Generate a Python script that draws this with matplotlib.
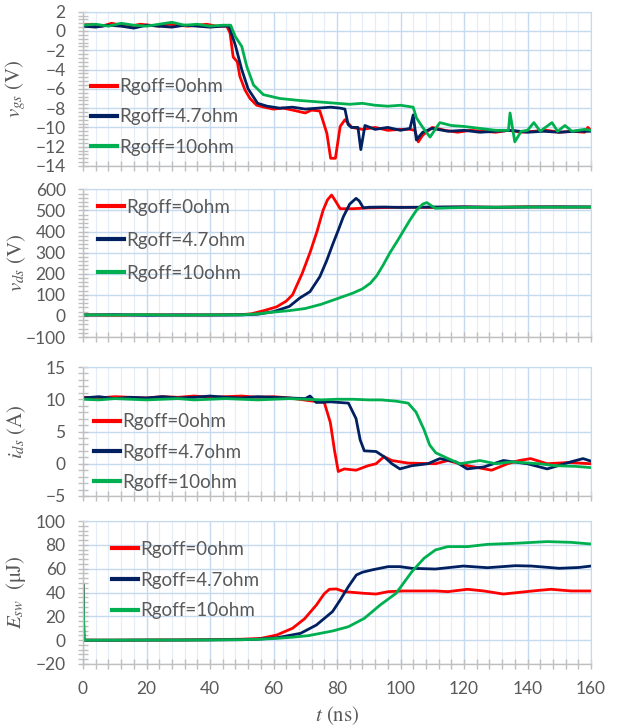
import matplotlib
matplotlib.use("Agg")
from matplotlib import pyplot as plt
from matplotlib.ticker import MultipleLocator, AutoMinorLocator

plt.rcParams['font.family'] = ['Lato', 'DejaVu Sans']
plt.rcParams['mathtext.fontset'] = 'stix'

labels = ["Rgoff=0ohm", "Rgoff=4.7ohm", "Rgoff=10ohm"]
colors = ["#ff0000", "#002060", "#00b050"]

# gate-source voltage (V)
t_vgs_0 = [0, 3, 6, 9, 12, 15, 18, 21, 24, 27, 30, 33, 36, 39, 42, 45.3,
           46.3, 47.3, 48.6, 49.4, 51, 52.6, 54.7, 57, 60, 63, 66, 70, 72, 74.6,
           76.8, 78, 79.5, 81, 82.5, 84.7, 88, 92, 96, 100, 103,
           104.5, 105.6, 107, 110, 114, 118, 122, 126, 130, 134, 138, 142, 146, 150, 154, 158, 159, 160]
vgs_0 = [0.6, 0.7, 0.5, 0.8, 0.6, 0.5, 0.7, 0.6, 0.5, 0.7, 0.6, 0.5, 0.6, 0.7, 0.5, 0.5,
         -0.2, -2.7, -3.2, -4.7, -6.1, -7.0, -7.7, -7.9, -8.1, -8.0, -8.2, -8.5, -8.2, -8.3,
         -10.6, -13.2, -13.2, -9.9, -9.2, -10.0, -10.2, -10.0, -10.3, -10.2, -10.2,
         -10.3, -11.5, -10.8, -10.0, -10.3, -10.5, -10.3, -10.4, -10.5, -10.3, -10.5, -10.4, -10.3, -10.5, -10.4, -10.5, -10.0, -10.3]
t_vgs_47 = [0, 4, 8, 12, 16, 20, 24, 28, 32, 36, 40, 44,
            46, 48, 50, 52, 55, 58, 62, 66, 70, 74, 78, 81,
            82.5, 83.5, 84.5, 86.6, 87.5, 88.8,
            92, 96, 100, 103, 104, 105, 107, 110,
            115, 120, 125, 130, 135, 140, 145, 150, 155, 160]
vgs_47 = [0.5, 0.4, 0.6, 0.5, 0.3, 0.6, 0.5, 0.4, 0.6, 0.5, 0.4, 0.5,
          0.5, -1.5, -4.0, -6.0, -7.5, -7.8, -8.0, -7.9, -8.1, -8.0, -7.9, -8.0,
          -8.1, -9.7, -10.0, -10.0, -12.3, -9.8,
          -10.2, -10.0, -10.3, -10.1, -8.7, -11.3, -10.5, -10.1,
          -10.4, -10.3, -10.5, -10.4, -10.3, -10.5, -10.4, -10.5, -10.4, -10.4]
t_vgs_10 = [0, 4, 8, 12, 16, 20, 24, 28, 32, 36, 40, 44,
            46.5, 48, 50, 51.6, 53.7, 56.8, 62, 68, 72, 76, 80, 84, 88, 92, 96, 100, 104,
            105, 107, 109.3, 112.4, 116, 120, 125, 130, 134,
            134.5, 136, 138, 140, 142, 144, 147.7, 149.5, 151.8, 154, 158, 160]
vgs_10 = [0.6, 0.7, 0.5, 0.8, 0.6, 0.5, 0.7, 0.9, 0.6, 0.7, 0.5, 0.6,
          0.6, -0.6, -1.6, -3.7, -5.6, -6.6, -7.0, -7.2, -7.3, -7.4, -7.5, -7.6, -7.5, -7.7, -7.8, -7.7, -7.9,
          -9.0, -10.0, -11.0, -9.5, -9.8, -9.9, -10.1, -10.3, -10.3,
          -8.5, -11.5, -10.4, -10.3, -9.5, -10.4, -9.5, -10.4, -9.8, -10.4, -10.2, -10.3]

# drain-source voltage (V)
t_vds_0 = [0, 10, 20, 30, 40, 50, 53, 57, 61, 64, 66, 69, 71.5, 73.7, 75.6, 77, 78.3, 79.5,
           81, 85, 90, 100, 110, 120, 130, 140, 150, 160]
vds_0 = [5, 3, 6, 4, 5, 6, 10, 25, 43, 70, 100, 200, 300, 400, 500, 550, 573, 545,
         508, 508, 512, 515, 514, 516, 515, 517, 516, 516]
t_vds_47 = [0, 10, 20, 30, 40, 50, 55, 60, 65,
            68.3, 71.5, 74.6, 76.7, 78.8, 80.5, 82, 84, 86,
            87, 88.3, 90, 95, 100, 110, 120, 130, 140, 150, 160]
vds_47 = [4, 6, 3, 5, 4, 5, 8, 20, 45,
          85, 115, 186, 260, 345, 410, 470, 530, 557,
          545, 512, 515, 516, 514, 516, 517, 515, 516, 517, 516]
t_vds_10 = [0, 10, 20, 30, 40, 50, 55, 60, 65, 70,
            75, 78.8, 82, 85, 88, 90.5, 92.5, 94.5, 96.7, 98.8,
            100.8, 103, 105, 107, 108.3, 110.9, 115, 120, 130, 140, 150, 160]
vds_10 = [5, 4, 6, 3, 5, 5, 10, 18, 25, 35,
          55, 75, 92, 108, 128, 155, 190, 240, 300, 350,
          400, 455, 500, 530, 537, 510, 512, 514, 515, 516, 515, 516]

# drain current (A)
t_ids_0 = [0, 5, 10, 15, 20, 25, 30, 35, 40, 45, 50, 55, 60, 65,
           71, 76, 77.9, 79.2, 80.4, 82.3, 86, 89.8, 92.3, 94.8,
           97.3, 102.4, 111, 114.9, 121, 128.7, 133.7, 137.4, 141, 146.2, 153, 160]
ids_0 = [10.3, 10.2, 10.4, 10.3, 10.2, 10.4, 10.3, 10.5, 10.3, 10.4, 10.5, 10.3, 10.4, 10.2,
         9.8, 9.5, 6.4, 2.1, -1.2, -0.8, -1.0, -0.3, 0.0, 1.1,
         0.5, 0.1, 0.0, 0.5, -0.3, -1.0, 0.0, 0.5, 0.8, 0.0, 0.2, 0.0]
t_ids_47 = [0, 5, 10, 15, 20, 25, 30, 35, 40, 45, 50, 55, 60, 65,
            70, 71.5, 73.5, 78, 83.6, 86, 87.3, 88.6, 92.3, 94.8,
            97.3, 99.8, 103.6, 108.6, 112.4, 117.4, 121, 126.2, 132.4, 140,
            146.2, 153.7, 157.5, 160]
ids_47 = [10.2, 10.4, 10.1, 10.3, 10.2, 10.4, 10.2, 10.3, 10.5, 10.3, 10.2, 10.4, 10.3, 10.2,
          10.1, 10.5, 9.5, 9.6, 9.4, 7.0, 3.7, 2.0, 1.9, 1.1,
          0.0, -0.8, -0.3, 0.0, 0.8, 0.3, -0.8, -0.5, 0.5, 0.0,
          -0.8, 0.3, 0.8, 0.4]
t_ids_10 = [0, 5, 10, 15, 20, 25, 30, 35, 40, 45, 50, 55, 60, 65, 70, 75, 80, 85, 90, 94,
            98.6, 102.4, 104.9, 107.4, 109.2, 111.1, 115, 118.7, 122.5, 125,
            130, 135, 143.7, 148.7, 155, 160]
ids_10 = [10.0, 9.9, 10.1, 10.0, 9.9, 10.0, 10.1, 9.9, 10.0, 10.1, 10.0, 9.9, 10.0, 10.1, 10.0, 9.9, 10.0, 10.0, 9.9, 9.9,
          9.7, 9.4, 8.0, 5.3, 2.9, 1.7, 0.8, 0.0, 0.3, 0.5,
          0.0, 0.3, 0.0, -0.3, -0.4, -0.6]

# switching energy (uJ)
t_esw_0 = [0, 0.3, 10, 20, 30, 40, 50, 56, 61, 66,
           69.8, 73.5, 76, 77.6, 79.8, 82.3, 88.6, 92.3, 96.1, 101.1,
           111, 114.9, 121.1, 126.2, 132.4, 137.4, 142.4, 147.4, 153.7, 160]
esw_0 = [46, 0, 0, 0.1, 0.2, 0.4, 0.8, 1.5, 4.3, 10,
         18, 29.5, 39, 42.7, 43, 40.7, 39.3, 38.7, 40.7, 41.3,
         41.3, 40.7, 42.7, 41.3, 38.7, 40.1, 41.5, 42.7, 41.3, 41.3]
t_esw_47 = [0, 0.3, 10, 20, 30, 40, 50, 55, 61, 68.5,
            73.5, 78.6, 81, 83.6, 86.1, 88, 91.1, 96.1, 99.8, 103.6,
            111, 119.8, 127.4, 136.2, 141.2, 150, 156.2, 160]
esw_47 = [46, 0, 0, 0.1, 0.1, 0.2, 0.4, 0.8, 2, 5.7,
          12.7, 24, 33.7, 45, 54.7, 57, 59, 61.7, 61.7, 60.3,
          59.7, 62.2, 60.8, 62.5, 62.2, 60.3, 61, 62.2]
t_esw_10 = [0, 0.3, 10, 20, 30, 40, 50, 55, 61, 66,
            71, 78.6, 83.6, 88.6, 93.6, 98.6, 103.6, 107.4, 111, 114.9,
            121.1, 127.4, 136.2, 146.2, 153.7, 160]
esw_10 = [46, 0, 0, 0.1, 0.1, 0.2, 0.4, 0.7, 1.5, 2.5,
          3.8, 7.7, 11.3, 18.3, 29.5, 39.3, 57.5, 68.7, 75.7, 78.5,
          78.5, 80.4, 81.3, 82.7, 82.1, 80.7]

panels = [
    ([(t_vgs_0, vgs_0), (t_vgs_47, vgs_47), (t_vgs_10, vgs_10)],
     (-14, 2), 2, r'$v_{gs}$ (V)', (0.0157, 0.318), 0.7),
    ([(t_vds_0, vds_0), (t_vds_47, vds_47), (t_vds_10, vds_10)],
     (-100, 600), 100, r'$v_{ds}$ (V)', (0.0295, 0.655), 0.86),
    ([(t_ids_0, ids_0), (t_ids_47, ids_47), (t_ids_10, ids_10)],
     (-5, 15), 5, r'$i_{ds}$ (A)', (0.0217, 0.341), 0.7),
    ([(t_esw_0, esw_0), (t_esw_47, esw_47), (t_esw_10, esw_10)],
     (-20, 100), 20, r'$E_{sw}$  (μJ)', (0.057, 0.587), 0.73),
]

# axes boxes in pixels: top, bottom
boxes = [(11.7, 166), (189.3, 337), (367, 496), (521, 664)]
W, H = 621, 728
x0, x1 = 83, 591

fig = plt.figure(figsize=(W / 100, H / 100), dpi=100)
grid_major = "#c5d9ef"
grid_minor = "#e3ecf7"
axis_gray = "#bfbfbf"
text_gray = "#595959"

for i, (series, ylim, ystep, ylabel, leg_pos, lspace) in enumerate(panels):
    top, bot = boxes[i]
    ax = fig.add_axes([x0 / W, 1 - bot / H, (x1 - x0) / W, (bot - top) / H])
    for (t, v), c, lab in zip(series, colors, labels):
        ax.plot(t, v, color=c, lw=2.0, label=lab)
    ax.set_xlim(0, 160)
    ax.set_ylim(*ylim)
    ax.xaxis.set_major_locator(MultipleLocator(20))
    ax.xaxis.set_minor_locator(MultipleLocator(4))
    ax.yaxis.set_major_locator(MultipleLocator(ystep))
    ax.yaxis.set_minor_locator(AutoMinorLocator(5))
    ax.grid(which='major', color=grid_major, lw=1.0)
    ax.grid(which='minor', axis='x', color=grid_minor, lw=0.8)
    ax.set_axisbelow(True)
    for s in ['top', 'right']:
        ax.spines[s].set_color(grid_major)
    for s in ['left', 'bottom']:
        ax.spines[s].set_color(axis_gray)
        ax.spines[s].set_linewidth(1.0)
    ax.tick_params(which='both', direction='inout', length=7, width=1,
                   color=axis_gray, labelcolor=text_gray, labelsize=12.5)
    ax.tick_params(axis='y', pad=9)
    ax.tick_params(axis='x', pad=9)
    if i < 3:
        ax.tick_params(axis='x', labelbottom=False)
    ax.set_ylabel(ylabel, family='STIXGeneral', fontsize=15, color=text_gray)
    ax.yaxis.set_label_coords(-0.108, 0.5)
    leg = ax.legend(loc='center left', bbox_to_anchor=leg_pos, frameon=False,
                    fontsize=13.5, handlelength=1.4, handletextpad=0.1,
                    labelspacing=lspace, borderpad=0, borderaxespad=0,
                    labelcolor=text_gray)
    for line in leg.get_lines():
        line.set_linewidth(3)
    if i == 3:
        ax.set_xlabel(r'$t$ (ns)', family='STIXGeneral', fontsize=15,
                      color=text_gray, labelpad=5)

fig.savefig("out.png", dpi=100)
